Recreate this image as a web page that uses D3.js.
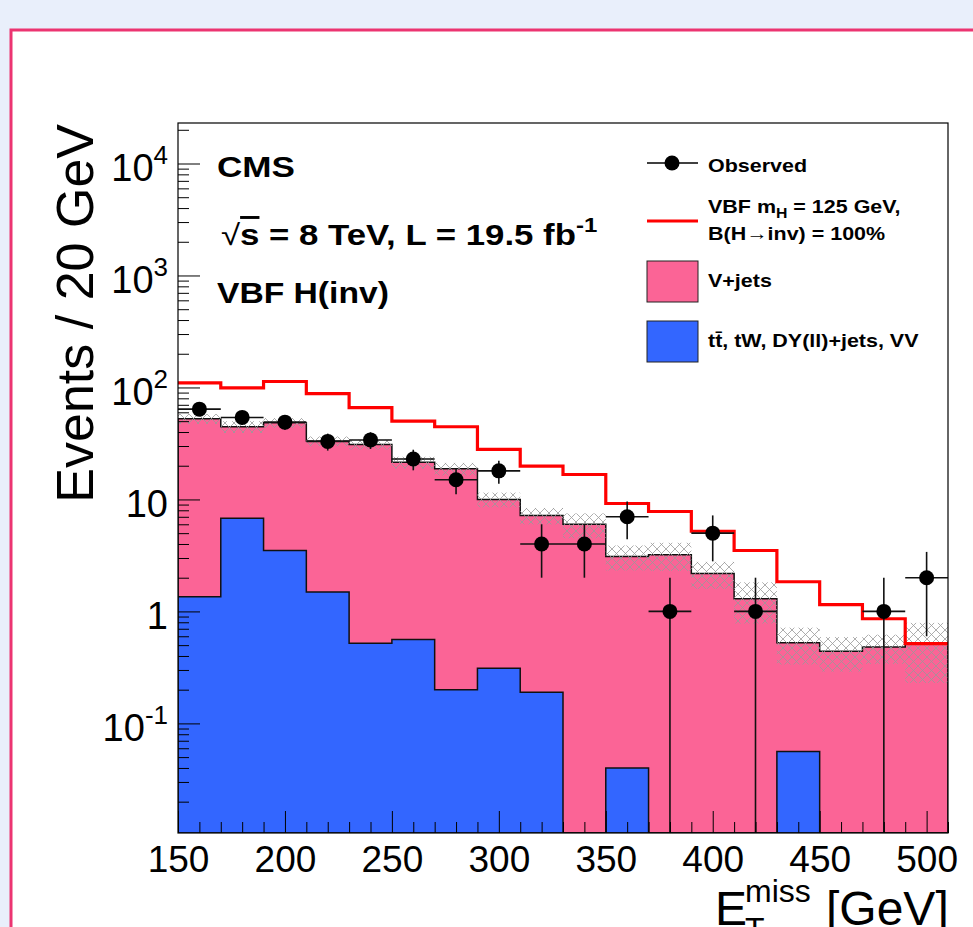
<!DOCTYPE html>
<html>
<head>
<meta charset="utf-8">
<script src="https://cdn.jsdelivr.net/npm/d3@7"></script>
<style>
  body { margin: 0; background: #e9effb; }
  svg { display: block; }
  text { font-family: "Liberation Sans", Arial, Helvetica, sans-serif; fill: #000; }
</style>
</head>
<body>
<svg width="973" height="927"></svg>
<script>
// bins of 20 GeV, lower edges
var binLow = [150,170,190,210,230,250,270,290,310,330,350,370,390,410,430,450,470,490];
var binWidth = 20;

// observed counts and their errors
var observed    = [64,54,49,33,34,23,15,18,4,4,7,1,5,1,0,0,1,2];
var observedErr = [8.0,7.3,7.0,5.7,5.8,4.8,3.9,4.2,2.0,2.0,2.6,1.0,2.2,1.0,0,0,1.0,1.4];

// backgrounds (stacked: other at bottom, V+jets on top)
var otherBkg = [1.35,6.8,3.5,1.49,0.52,0.56,0.20,0.31,0.19,0,0.04,0,0,0,0.056,0,0,0];
var vJets    = [51.2,37.8,44.9,31.7,30.5,20.9,18.6,9.7,7.0,6.0,3.06,3.2,2.18,1.3,0.47,0.44,0.48,0.51];
var bkgErr   = [5.3,5.4,4.8,3.3,3.1,2.6,2.4,1.5,1.2,1.5,0.78,0.9,0.59,0.52,0.19,0.15,0.14,0.28];

// VBF signal line (drawn on top of background)
var signalLine = [110,99,113,88,66,50,44.6,28,19.8,16.7,9.2,7.8,5.2,3.5,1.84,1.15,0.86,0.515];

var xTicks = [150,200,250,300,350,400,450,500];
var yTicks = [0.1,1,10,100,1000,10000];

var svg = d3.select("svg");

// outer page box
svg.append("rect")
    .attr("x", 11).attr("y", 30)
    .attr("width", 1000).attr("height", 960)
    .style("fill", "#fff")
    .style("stroke", "#ec3471")
    .style("stroke-width", 3);

var x = d3.scaleLinear().domain([150, 510]).range([178, 948]);
var y = d3.scaleLog().domain([0.0105, 2.3e4]).range([833, 123]).clamp(true);
var yBot = y.range()[0];

function yv(v) { return v > 0 ? y(v) : yBot; }

var total = vJets.map(function(d, i) { return d + otherBkg[i]; });

function stepPts(vals, drop) {
  var pts = [];
  if (drop) pts.push([x(binLow[0]), yBot]);
  vals.forEach(function(v, i) {
    pts.push([x(binLow[i]), yv(v)]);
    pts.push([x(binLow[i] + binWidth), yv(v)]);
  });
  if (drop) pts.push([x(binLow[binLow.length - 1] + binWidth), yBot]);
  return pts;
}

var line = d3.line();

// text that is a bit wider than the font gives (as in the original pdf)
function wideText(g, tx, ty, sx) {
  return g.append("text")
      .attr("transform", "translate(" + tx + "," + ty + ") scale(" + sx + ",1)");
}

// hatch pattern for the background uncertainty
var defs = svg.append("defs");
var pat = defs.append("pattern")
    .attr("id", "hatch")
    .attr("patternUnits", "userSpaceOnUse")
    .attr("width", 9).attr("height", 9);
pat.append("path")
    .attr("d", "M0,0 L9,9 M9,0 L0,9")
    .style("stroke", "#999")
    .style("stroke-width", 0.8)
    .style("fill", "none");

defs.append("clipPath").attr("id", "frame")
  .append("rect")
    .attr("x", x(150)).attr("y", 123)
    .attr("width", x(510) - x(150)).attr("height", yBot - 123);

var plot = svg.append("g").attr("clip-path", "url(#frame)");

// V+jets (stack total)
plot.append("path")
    .attr("d", line(stepPts(total, true)) + "Z")
    .style("fill", "#fb6496")
    .style("stroke", "#111")
    .style("stroke-width", 1.5);

// other backgrounds
plot.append("path")
    .attr("d", line(stepPts(otherBkg, true)) + "Z")
    .style("fill", "#3366ff")
    .style("stroke", "#111")
    .style("stroke-width", 1.5);

// uncertainty band
plot.append("g").selectAll("rect")
    .data(total)
    .enter().append("rect")
    .attr("x", function(d, i) { return x(binLow[i]); })
    .attr("width", function(d, i) { return x(binLow[i] + binWidth) - x(binLow[i]); })
    .attr("y", function(d, i) { return y(d + bkgErr[i]); })
    .attr("height", function(d, i) { return yv(d - bkgErr[i]) - y(d + bkgErr[i]); })
    .style("fill", "url(#hatch)");

// signal
plot.append("path")
    .attr("d", line(stepPts(signalLine, false)))
    .style("fill", "none")
    .style("stroke", "#ff0000")
    .style("stroke-width", 3.2);

// observed
var pts = binLow.map(function(b, i) { return { lo: b, n: observed[i], e: observedErr[i] }; })
    .filter(function(d) { return d.n > 0; });

var obs = plot.append("g");
obs.selectAll("line.h").data(pts).enter().append("line")
    .attr("x1", function(d) { return x(d.lo); })
    .attr("x2", function(d) { return x(d.lo + binWidth); })
    .attr("y1", function(d) { return y(d.n); })
    .attr("y2", function(d) { return y(d.n); })
    .style("stroke", "#111").style("stroke-width", 1.6);
obs.selectAll("line.v").data(pts).enter().append("line")
    .attr("x1", function(d) { return x(d.lo + binWidth / 2); })
    .attr("x2", function(d) { return x(d.lo + binWidth / 2); })
    .attr("y1", function(d) { return y(d.n + d.e); })
    .attr("y2", function(d) { return yv(d.n - d.e); })
    .style("stroke", "#111").style("stroke-width", 1.6);
obs.selectAll("circle").data(pts).enter().append("circle")
    .attr("cx", function(d) { return x(d.lo + binWidth / 2); })
    .attr("cy", function(d) { return y(d.n); })
    .attr("r", 7.5)
    .style("fill", "#000");

// axes
var yMinor = [];
for (var k = -2; k <= 4; k++) {
  for (var m = 2; m <= 9; m++) {
    var v = m * Math.pow(10, k);
    if (v >= y.domain()[0] && v <= y.domain()[1]) yMinor.push(v);
  }
}
var xMinor = d3.range(160, 511, 10).filter(function(v) { return v % 50 !== 0; });

svg.append("g")
    .attr("transform", "translate(" + x(150) + ",0)")
    .call(d3.axisLeft(y).tickValues(yMinor).tickSize(-11).tickFormat(""))
    .call(function(g) { g.select(".domain").remove(); });

var yAx = svg.append("g")
    .attr("transform", "translate(" + x(150) + ",0)")
    .call(d3.axisLeft(y).tickValues(yTicks).tickSize(-22).tickPadding(10).tickFormat(""));
yAx.select(".domain").remove();
yAx.selectAll(".tick text").each(function(d) {
  var t = d3.select(this)
      .attr("dy", null)
      .attr("y", 17)
      .style("font-size", "38px");
  var e = Math.round(Math.log10(d));
  if (e === 0) { t.text("1"); }
  else if (e === 1) { t.text("10"); }
  else {
    t.append("tspan").text("10");
    t.append("tspan").attr("dy", -17).style("font-size", "26px").text(e);
  }
});

svg.append("g")
    .attr("transform", "translate(0," + yBot + ")")
    .call(d3.axisBottom(x).tickValues(xMinor).tickSize(-11).tickFormat(""))
    .call(function(g) { g.select(".domain").remove(); });

var xAx = svg.append("g")
    .attr("transform", "translate(0," + yBot + ")")
    .call(d3.axisBottom(x).tickValues(xTicks).tickSize(-22).tickFormat(d3.format("d")));
xAx.select(".domain").remove();
xAx.selectAll(".tick text")
    .attr("y", 39).attr("dy", null)
    .style("font-size", "37px");

svg.selectAll(".tick line").style("stroke", "#000").style("stroke-width", 1);

// frame
svg.append("rect")
    .attr("x", x(150)).attr("y", 123)
    .attr("width", x(510) - x(150)).attr("height", yBot - 123)
    .style("fill", "none").style("stroke", "#000").style("stroke-width", 1.2);

// axis titles
svg.append("text")
    .attr("transform", "translate(93,124) rotate(-90)")
    .attr("text-anchor", "end")
    .style("font-size", "52px")
    .text("Events / 20 GeV");

svg.append("text").attr("x", 715).attr("y", 925).style("font-size", "48px").text("E");
svg.append("text").attr("x", 745).attr("y", 902).style("font-size", "32px").text("miss");
svg.append("text").attr("x", 745).attr("y", 940).style("font-size", "32px").text("T");
svg.append("text").attr("x", 826).attr("y", 925).style("font-size", "48px").text("[GeV]");

// CMS labels
wideText(svg, 217, 177, 1.17)
    .style("font-size", "30px").style("font-weight", "bold").text("CMS");

var lumi = wideText(svg, 221, 245, 1.2)
    .style("font-size", "29px").style("font-weight", "bold");
lumi.append("tspan").style("font-weight", "normal").text("\u221a");
lumi.append("tspan").style("text-decoration", "overline").text("s");
lumi.append("tspan").text(" = 8 TeV, L = 19.5 fb");
lumi.append("tspan").attr("dy", -13).style("font-size", "20px").text("-1");

wideText(svg, 217, 303, 1.16)
    .style("font-size", "29px").style("font-weight", "bold").text("VBF H(inv)");

// legend
var lg = svg.append("g").style("font-weight", "bold").style("font-size", "19px");
var lsx = 1.13;
lg.append("line").attr("x1", 647).attr("x2", 698).attr("y1", 163).attr("y2", 163)
    .style("stroke", "#000").style("stroke-width", 1.5);
lg.append("circle").attr("cx", 672).attr("cy", 163).attr("r", 7.5).style("fill", "#000");
wideText(lg, 708, 172, lsx).text("Observed");

lg.append("line").attr("x1", 647).attr("x2", 698).attr("y1", 221).attr("y2", 221)
    .style("stroke", "#ff0000").style("stroke-width", 3.2);
var l2 = wideText(lg, 708, 213, lsx);
l2.append("tspan").text("VBF m");
l2.append("tspan").attr("dy", 5).style("font-size", "14px").text("H");
l2.append("tspan").attr("dy", -5).text(" = 125 GeV,");
wideText(lg, 708, 240, lsx).text("B(H\u2192inv) = 100%");

lg.append("rect").attr("x", 647).attr("y", 261).attr("width", 51).attr("height", 41)
    .style("fill", "#fb6496").style("stroke", "#222").style("stroke-width", 1);
wideText(lg, 708, 287, lsx).text("V+jets");

lg.append("rect").attr("x", 647).attr("y", 321).attr("width", 51).attr("height", 41)
    .style("fill", "#3366ff").style("stroke", "#222").style("stroke-width", 1);
wideText(lg, 708, 347, lsx).text("t\u0074\u0304, tW, DY(ll)+jets, VV");
</script>
</body>
</html>
